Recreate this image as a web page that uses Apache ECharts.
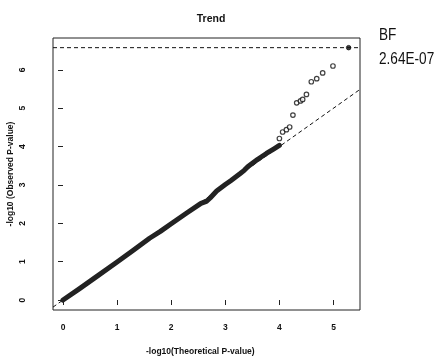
<!DOCTYPE html>
<html>
<head>
<meta charset="utf-8">
<script src="https://cdn.jsdelivr.net/npm/echarts@6/dist/echarts.min.js"></script>
<style>
html,body{margin:0;padding:0;background:#fff;}
#chart{width:445px;height:364px;}
</style>
</head>
<body>
<div id="chart"></div>
<script>
// Dense part of the QQ curve: [expected -log10 p, observed -log10 p]
const densePoints = [
  [0,0],[0.3,0.29],[0.6,0.59],[1.0,0.99],[1.3,1.3],[1.6,1.61],[1.8,1.79],
  [2.0,1.99],[2.3,2.28],[2.55,2.52],[2.65,2.57],[2.72,2.66],[2.84,2.84],
  [3.0,3.01],[3.1,3.11],[3.27,3.29],[3.35,3.38],[3.42,3.48],[3.6,3.67],
  [3.76,3.82],[3.9,3.94],[4.0,4.03]
];
// Sparse tail points (open circles)
const tailPoints = [
  [4.0,4.21],[4.06,4.38],[4.13,4.44],[4.19,4.51],[4.25,4.82],[4.32,5.14],
  [4.39,5.19],[4.43,5.23],[4.50,5.36],[4.59,5.69],[4.69,5.77],[4.80,5.92],
  [4.99,6.10]
];
// Top hit (filled)
const topPoint = [[5.28,6.578]];
// Reference lines
const bfThreshold = 6.578; // -log10(2.64E-07)
const xRange = [-0.185, 5.49];
const yRange = [-0.26, 6.83];
const xTicks = [0,1,2,3,4,5];
const yTicks = [0,1,2,3,4,5,6];
const titleText = 'Trend';
const xTitle = '-log10(Theoretical P-value)';
const yTitle = '-log10 (Observed P-value)';
const sideLabels = ['BF', '2.64E-07'];

const chart = echarts.init(document.getElementById('chart'), null, {renderer:'canvas'});
const FONT = 'Liberation Sans, Arial, sans-serif';
const gridL = 53, gridR = 85, gridT = 38, gridB = 54;

chart.setOption({
  animation:false,
  backgroundColor:'#fff',
  title:{
    text:titleText, left:206, top:9, textAlign:'center',
    textStyle:{fontFamily:FONT, fontSize:10.5, fontWeight:'bold', color:'#111'}
  },
  grid:{left:gridL, right:gridR, top:gridT, bottom:gridB, show:true, borderColor:'#222', borderWidth:1, backgroundColor:'transparent'},
  xAxis:{
    type:'value', min:xRange[0], max:xRange[1],
    splitLine:{show:false},
    axisLine:{show:false},
    axisTick:{show:true, length:5, lineStyle:{color:'#222', width:1}, customValues:xTicks},
    axisLabel:{show:true, margin:13, customValues:xTicks, fontFamily:FONT, fontSize:8.5, fontWeight:'bold', color:'#111'}
  },
  yAxis:{
    type:'value', min:yRange[0], max:yRange[1],
    splitLine:{show:false},
    axisLine:{show:false},
    axisTick:{show:true, length:5, lineStyle:{color:'#222', width:1}, customValues:yTicks},
    axisLabel:{show:true, margin:30, rotate:90, customValues:yTicks, fontFamily:FONT, fontSize:8.5, fontWeight:'bold', color:'#111', align:'center', verticalAlign:'middle'}
  },
  series:[
    {
      type:'line', data:[[xRange[0],xRange[0]],[xRange[1],xRange[1]]],
      symbol:'none', silent:true, z:1,
      lineStyle:{color:'#111', width:1, type:[4,3]}
    },
    {
      type:'line', data:[[xRange[0],bfThreshold],[xRange[1],bfThreshold]],
      symbol:'none', silent:true, z:1,
      lineStyle:{color:'#111', width:1, type:[4,3]}
    },
    {
      type:'line', data:densePoints, symbol:'none', z:3,
      lineStyle:{color:'#222', width:5, cap:'round', join:'round'}
    },
    {
      type:'scatter', data:tailPoints, symbol:'circle', symbolSize:4.5, z:4,
      itemStyle:{color:'#fff', borderColor:'#111', borderWidth:1.2}
    },
    {
      type:'scatter', data:topPoint, symbol:'circle', symbolSize:4.5, z:4,
      itemStyle:{color:'#111', borderColor:'#111', borderWidth:1}
    }
  ],
  graphic:[
    {type:'text', left:146, top:347, style:{text:xTitle, font:'bold 8.5px '+FONT, fill:'#111'}},
    {type:'text', x:11, y:174, rotation:Math.PI/2, style:{text:yTitle, font:'bold 8.5px '+FONT, fill:'#111', align:'center', verticalAlign:'middle'}},
    {type:'text', x:379, y:27, scaleX:0.8, style:{text:sideLabels[0], font:'17px '+FONT, fill:'#111'}},
    {type:'text', x:379, y:51, scaleX:0.8, style:{text:sideLabels[1], font:'17px '+FONT, fill:'#111'}}
  ]
});
</script>
</body>
</html>
